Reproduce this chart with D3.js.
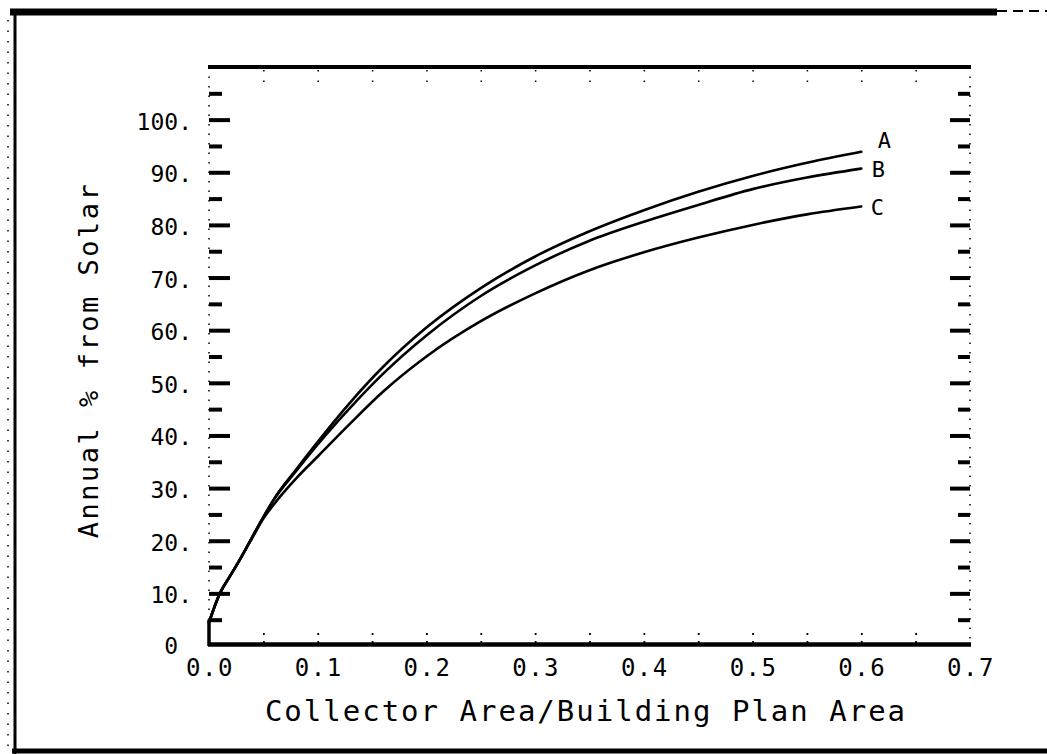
<!DOCTYPE html>
<html>
<head>
<meta charset="utf-8">
<script src="https://cdn.jsdelivr.net/npm/d3@7"></script>
<style>
  html, body { margin: 0; padding: 0; background: #fff; }
  svg { display: block; }
  text { font-family: "DejaVu Sans Mono", "Liberation Mono", monospace; fill: #000; }
</style>
</head>
<body>
<svg id="chart" width="1047" height="754"></svg>
<script>
// ---------- data ----------
const xValues = [0, 0.01, 0.02, 0.03, 0.04, 0.05, 0.06, 0.08, 0.10, 0.13, 0.16, 0.20, 0.25, 0.30, 0.35, 0.40, 0.45, 0.50, 0.55, 0.60];
const seriesA = [4.5, 10, 13.5, 17, 20.8, 24.5, 28, 33.5, 38.8, 46.3, 53, 60.5, 68, 74, 78.8, 82.8, 86.3, 89.3, 91.8, 93.9];
const seriesB = [4.5, 10, 13.5, 17, 20.8, 24.5, 27.9, 33.2, 38.3, 45.3, 51.7, 59, 66.5, 72.3, 77, 80.6, 83.8, 86.8, 89, 90.7];
const seriesC = [4.5, 10, 13.5, 17, 20.6, 24.2, 27, 31.8, 36, 42.3, 48.3, 55, 61.7, 67, 71.4, 74.8, 77.6, 80, 82, 83.5];
const seriesNames = ["A", "B", "C"];
const yMajorTicks = [10, 20, 30, 40, 50, 60, 70, 80, 90, 100];
const yMinorTicks = [5, 15, 25, 35, 45, 55, 65, 75, 85, 95, 105];
const yTickLabels = ["0", "10.", "20.", "30.", "40.", "50.", "60.", "70.", "80.", "90.", "100."];
const yTickLabelValues = [0, 10, 20, 30, 40, 50, 60, 70, 80, 90, 100];
const xTickValues = [0, 0.1, 0.2, 0.3, 0.4, 0.5, 0.6, 0.7];
const xTickLabels = ["0.0", "0.1", "0.2", "0.3", "0.4", "0.5", "0.6", "0.7"];
const xMinorTicks = [0.05, 0.1, 0.15, 0.2, 0.25, 0.3, 0.35, 0.4, 0.45, 0.5, 0.55, 0.6, 0.65];
const xTitle = "Collector Area/Building Plan Area";
const yTitle = "Annual % from Solar";

// ---------- layout ----------
const svg = d3.select("#chart");
const x = d3.scaleLinear().domain([0, 0.7]).range([209, 970]);
const y = d3.scaleLinear().domain([0, 110]).range([646, 67]);

// outer frame
const frame = svg.append("g");
frame.append("line").attr("x1", 10).attr("x2", 997).attr("y1", 12).attr("y2", 12)
  .attr("stroke", "#000").attr("stroke-width", 7);
frame.append("line").attr("x1", 997).attr("x2", 1047).attr("y1", 11).attr("y2", 11)
  .attr("stroke", "#000").attr("stroke-width", 2).attr("stroke-dasharray", "10,6");
frame.append("line").attr("x1", 15).attr("x2", 15).attr("y1", 10).attr("y2", 754)
  .attr("stroke", "#000").attr("stroke-width", 3);
frame.append("line").attr("x1", 8).attr("x2", 8).attr("y1", 20).attr("y2", 754)
  .attr("stroke", "#000").attr("stroke-width", 1.5).attr("stroke-dasharray", "1.5,9");
frame.append("line").attr("x1", 12).attr("x2", 1047).attr("y1", 751).attr("y2", 751)
  .attr("stroke", "#000").attr("stroke-width", 5);

// plot box lines
const box = svg.append("g");
box.append("line").attr("x1", x(0) - 1).attr("x2", x(0.7) + 1).attr("y1", y(110)).attr("y2", y(110))
  .attr("stroke", "#000").attr("stroke-width", 4);
box.append("line").attr("x1", x(0) - 1).attr("x2", x(0.7) + 1).attr("y1", y(0) - 1.5).attr("y2", y(0) - 1.5)
  .attr("stroke", "#000").attr("stroke-width", 4.5);
// dotted side axes
box.append("line").attr("x1", x(0)).attr("x2", x(0)).attr("y1", y(110)).attr("y2", y(0))
  .attr("stroke", "#000").attr("stroke-width", 1.5).attr("stroke-dasharray", "1.5,8");
box.append("line").attr("x1", x(0.7)).attr("x2", x(0.7)).attr("y1", y(110)).attr("y2", y(0))
  .attr("stroke", "#000").attr("stroke-width", 1.5).attr("stroke-dasharray", "1.5,8");
// solid stub at lower left
box.append("line").attr("x1", x(0)).attr("x2", x(0)).attr("y1", y(5)).attr("y2", y(0))
  .attr("stroke", "#000").attr("stroke-width", 3.5);

// y ticks (inward) via d3 axes
function styleTicks(g, w) {
  g.select(".domain").remove();
  g.selectAll(".tick line").attr("stroke", "#000").attr("stroke-width", w);
  g.selectAll(".tick text").remove();
}
svg.append("g").attr("transform", `translate(${x(0)},0)`)
  .call(d3.axisRight(y).tickValues(yMajorTicks).tickSize(21).tickFormat(""))
  .call(g => styleTicks(g, 4));
svg.append("g").attr("transform", `translate(${x(0)},0)`)
  .call(d3.axisRight(y).tickValues(yMinorTicks.filter(v => v < 106)).tickSize(13).tickFormat(""))
  .call(g => styleTicks(g, 4));
svg.append("g").attr("transform", `translate(${x(0.7)},0)`)
  .call(d3.axisLeft(y).tickValues(yMajorTicks).tickSize(20).tickFormat(""))
  .call(g => styleTicks(g, 4));
svg.append("g").attr("transform", `translate(${x(0.7)},0)`)
  .call(d3.axisLeft(y).tickValues(yMinorTicks.filter(v => v < 106)).tickSize(12).tickFormat(""))
  .call(g => styleTicks(g, 4));

// x ticks (faint, inward)
svg.append("g").attr("transform", `translate(0,${y(0) - 3})`)
  .call(d3.axisTop(x).tickValues(xMinorTicks).tickSize(16).tickFormat(""))
  .call(g => { styleTicks(g, 1.8); g.selectAll(".tick line").attr("stroke-dasharray", "2,6"); });
svg.append("g").attr("transform", `translate(0,${y(110) + 3})`)
  .call(d3.axisBottom(x).tickValues(xMinorTicks).tickSize(14).tickFormat(""))
  .call(g => { styleTicks(g, 1.5); g.selectAll(".tick line").attr("stroke-dasharray", "1.5,9"); });

// y tick labels
svg.append("g").selectAll("text").data(yTickLabelValues).join("text")
  .attr("x", (d, i) => yTickLabels[i].endsWith(".") ? 192 : 178)
  .attr("y", d => y(d) + (d === 0 ? 0 : 2))
  .attr("text-anchor", "end")
  .attr("dominant-baseline", "central")
  .attr("font-size", 23)
  .text((d, i) => yTickLabels[i]);

// x tick labels
svg.append("g").selectAll("text").data(xTickValues).join("text")
  .attr("x", d => x(d) + 1)
  .attr("y", 668)
  .attr("text-anchor", "middle")
  .attr("dominant-baseline", "central")
  .attr("font-size", 24)
  .attr("letter-spacing", 1.5)
  .text((d, i) => xTickLabels[i]);

// axis titles
svg.append("text")
  .attr("x", 586).attr("y", 711)
  .attr("text-anchor", "middle")
  .attr("dominant-baseline", "central")
  .attr("font-size", 29)
  .attr("letter-spacing", 2)
  .text(xTitle);
svg.append("text")
  .attr("transform", "translate(88,360) rotate(-90)")
  .attr("text-anchor", "middle")
  .attr("dominant-baseline", "central")
  .attr("font-size", 27)
  .attr("letter-spacing", 2.5)
  .text(yTitle);

// curves
const allSeries = [seriesA, seriesB, seriesC];
const line = d3.line()
  .x(d => x(d[0]))
  .y(d => y(d[1]))
  .curve(d3.curveMonotoneX);
const labelOffsets = [[23, -11], [17, 1], [16, 1]];

allSeries.forEach((s, i) => {
  const pts = xValues.map((xv, j) => [xv, s[j]]);
  svg.append("path")
    .datum(pts)
    .attr("d", line)
    .attr("fill", "none")
    .attr("stroke", "#000")
    .attr("stroke-width", 2.6)
    .attr("stroke-linecap", "round");
  const last = pts[pts.length - 1];
  svg.append("text")
    .attr("x", x(last[0]) + labelOffsets[i][0])
    .attr("y", y(last[1]) + labelOffsets[i][1])
    .attr("text-anchor", "middle")
    .attr("dominant-baseline", "central")
    .attr("font-size", 22)
    .text(seriesNames[i]);
});
</script>
</body>
</html>
